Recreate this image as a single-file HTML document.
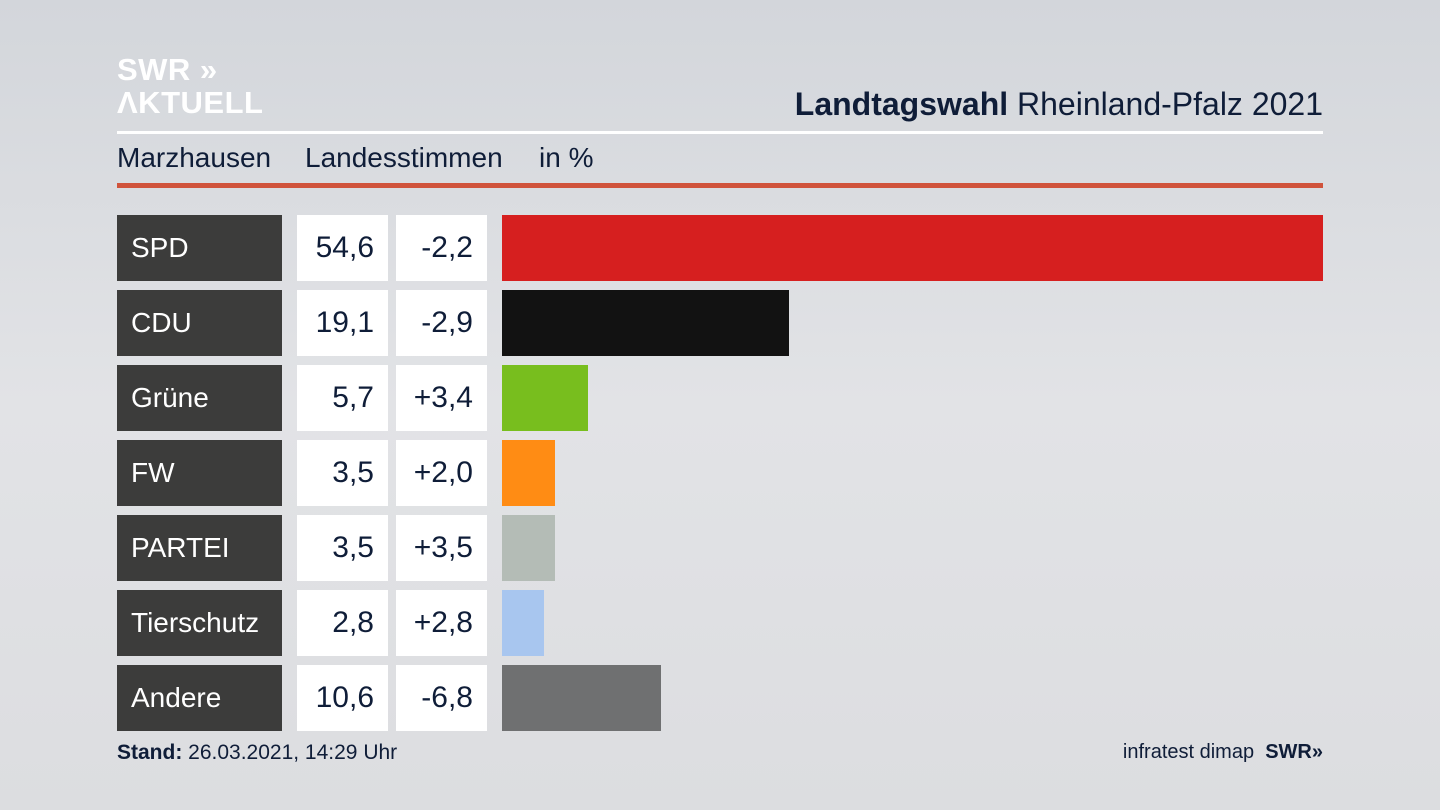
<!DOCTYPE html>
<html><head><meta charset="utf-8"><style>
body{margin:0;width:1440px;height:810px;overflow:hidden;background:linear-gradient(180deg,#d3d6db 0%,#e2e3e6 50%,#dcdde0 100%);font-family:"Liberation Sans","DejaVu Sans",sans-serif;color:#0f1d38;position:relative}
.abs{position:absolute}
.logo{left:117px;top:53px;color:#fff;font-weight:bold;font-size:31px;line-height:33px;letter-spacing:0.5px}
.title{right:117px;top:86px;font-size:32px}
.sub{top:142px;font-size:28px}
.lbl{background:#3c3c3b;color:#fff;font-size:28px;display:flex;align-items:center;padding-left:14px;box-sizing:border-box}
.val{background:#fff;font-size:30px;display:flex;align-items:center;justify-content:flex-end;padding-right:14px;box-sizing:border-box}
</style></head><body>
<div class="abs logo">SWR »<br>ΛKTUELL</div>
<div class="abs title"><b>Landtagswahl</b> Rheinland-Pfalz 2021</div>
<div class="abs" style="left:117px;top:131px;width:1206px;height:3px;background:#fff"></div>
<div class="abs sub" style="left:117px">Marzhausen</div>
<div class="abs sub" style="left:305px">Landesstimmen</div>
<div class="abs sub" style="left:539px">in %</div>
<div class="abs" style="left:117px;top:183px;width:1206px;height:5px;background:#d0533c"></div>
<div id="chart"></div>
<div class="abs" style="left:117px;top:741px;font-size:21px"><b>Stand:</b> 26.03.2021, 14:29 Uhr</div>
<div class="abs" style="right:117px;top:741px;font-size:20px">infratest dimap&nbsp;&nbsp;<b>SWR»</b></div>
<script>
const parties=["SPD","CDU","Grüne","FW","PARTEI","Tierschutz","Andere"];
const values=[54.6,19.1,5.7,3.5,3.5,2.8,10.6];
const diffs=["-2,2","-2,9","+3,4","+2,0","+3,5","+2,8","-6,8"];
const colors=["#d61f1f","#121212","#78be1e","#ff8c14","#b4bcb6","#a8c6ef","#6f7071"];
const x0=502,pxPer=821/54.6,top0=215,step=75,h=66;
const c=document.getElementById('chart');
function box(cls,l,t,w,txt,bg){const d=document.createElement('div');d.className='abs '+cls;d.style.cssText=`left:${l}px;top:${t}px;width:${w}px;height:${h}px;`+(bg?`background:${bg}`:'');d.textContent=txt||'';c.appendChild(d);return d;}
parties.forEach((p,i)=>{const y=top0+i*step;
const a=box('lbl',117,y,165,p);


const b=box('val',297,y,91,values[i].toFixed(1).replace('.',','));


const d=box('val',396,y,91,diffs[i]);


const r=box('',x0,y,values[i]*pxPer,'',colors[i]);


});
</script>
</body></html>
